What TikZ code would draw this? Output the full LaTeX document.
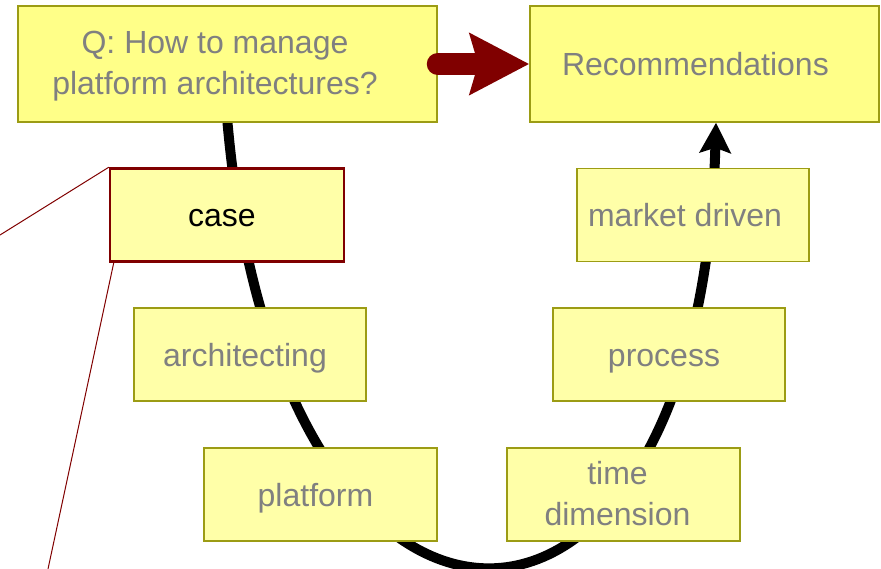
\documentclass[tikz,border=0pt]{standalone}
\usepackage{fontspec}
\setmainfont{Liberation Sans}
\usetikzlibrary{arrows.meta,backgrounds}
\definecolor{boxfill}{HTML}{FFFFA8}
\definecolor{topfill}{HTML}{FFFF88}
\definecolor{boxline}{HTML}{9C9C14}
\definecolor{darkred}{HTML}{800000}
\definecolor{textgray}{HTML}{808080}

\begin{document}
\begin{tikzpicture}[x=1pt,y=-1pt,
    plain/.style={draw=boxline, line width=1.5pt, fill=boxfill, text=textgray,
        minimum width=232pt, minimum height=93pt, inner sep=0pt,
        font=\fontsize{32}{41}\selectfont, align=center, text depth=7pt},
    nudge/.style={execute at end node=\hspace*{#1}},
    box/.style={plain, text height=31pt, nudge=10pt},
    twoline/.style={plain, text height=69pt},
    topfill/.style={fill=topfill, minimum height=116pt},
    casebox/.style={box, draw=darkred, line width=2.5pt, text=black},
    flow/.style={line width=10pt, -{Stealth[length=30pt,width=31pt,inset=5pt]}},
    answer/.style={draw=darkred, line width=22pt, line cap=round,
        -{Stealth[length=59pt,width=60pt,inset=8pt]}},
    zoomline/.style={draw=darkred, line width=1pt}]

\useasboundingbox (0,0) rectangle (881,569);

    % question and answer
    \node[twoline, topfill, minimum width=419pt, nudge=25pt] (question) at (227.5,64) {Q: How to manage\\platform architectures?};
    \node[box, topfill, minimum width=349pt, text width=285pt, inner xsep=32pt, align=left] (recommend) at (704.5,64) {Recommendations};

    % left side, going down
    \node[casebox, minimum width=234pt] (case) at (227,215) {case};
    \node[box] (architecting) at (250,354.5) {architecting};
    \node[box, minimum width=233pt] (platform) at (320.5,494.5) {platform};

    % right side, going up
    \node[twoline, minimum width=233pt, nudge=12pt] (time) at (623.5,494.5) {time\\dimension};
    \node[box] (process) at (669,354.5) {process};
    \node[box, nudge=6pt] (market) at (693,215) {market driven};

    % the big U behind the boxes
    \begin{scope}[on background layer]
        \draw[flow] (question.south) .. controls (280,713) and (700,713) .. ([xshift=11.5pt]recommend.south);
    \end{scope}

    \draw[answer] (question.east) -- (recommend.west);

    % zoom lines from the case
    \coordinate (zoomtop) at (0,235);
    \coordinate (zoombot) at (48,569);
    \draw[zoomline] (case.north west) -- (zoomtop);
    \draw[zoomline] ([xshift=5pt]case.south west) -- (zoombot);

\end{tikzpicture}
\end{document}
